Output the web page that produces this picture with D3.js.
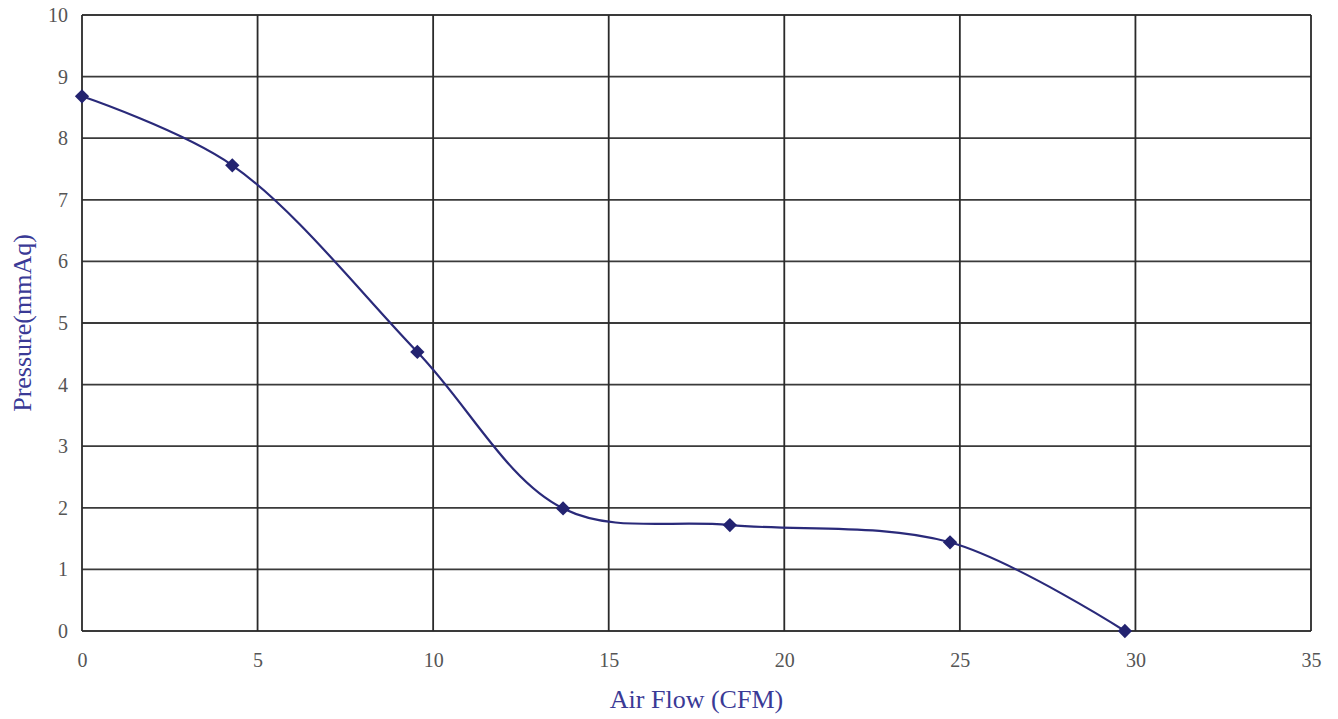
<!DOCTYPE html>
<html>
<head>
<meta charset="utf-8">
<script src="https://cdn.jsdelivr.net/npm/d3@7"></script>
<style>
  body { margin: 0; background: #fff; }
  text { font-family: "Liberation Serif", "DejaVu Serif", serif; }
</style>
</head>
<body>
<script>
// Fan curve data
const airFlow = [0, 4.28, 9.55, 13.7, 18.45, 24.72, 29.7];
const pressure = [8.68, 7.56, 4.53, 1.99, 1.72, 1.44, 0];
const xTicks = [0, 5, 10, 15, 20, 25, 30, 35];
const yTicks = [0, 1, 2, 3, 4, 5, 6, 7, 8, 9, 10];

const width = 1338;
const height = 719;
const margin = { top: 15, right: 27, bottom: 88, left: 82 };

const svg = d3.select("body")
  .append("svg")
  .attr("width", width)
  .attr("height", height);

const x = d3.scaleLinear()
  .domain([0, 35])
  .range([margin.left, width - margin.right]);

const y = d3.scaleLinear()
  .domain([0, 10])
  .range([height - margin.bottom, margin.top]);

// grid
svg.append("g")
  .selectAll("line")
  .data(yTicks)
  .enter()
  .append("line")
  .attr("x1", x(0))
  .attr("x2", x(35))
  .attr("y1", d => y(d))
  .attr("y2", d => y(d))
  .attr("stroke", "#3a3a3a")
  .attr("stroke-width", 1.8);

svg.append("g")
  .selectAll("line")
  .data(xTicks)
  .enter()
  .append("line")
  .attr("x1", d => x(d))
  .attr("x2", d => x(d))
  .attr("y1", y(0))
  .attr("y2", y(10))
  .attr("stroke", "#2a2a2a")
  .attr("stroke-width", 1.8);

// axes
const xAxis = svg.append("g")
  .attr("transform", `translate(0,${y(0)})`)
  .call(d3.axisBottom(x).tickValues(xTicks).tickSize(0).tickPadding(22));

const yAxis = svg.append("g")
  .attr("transform", `translate(${x(0)},0)`)
  .call(d3.axisLeft(y).tickValues(yTicks).tickSize(0).tickPadding(14));

[xAxis, yAxis].forEach(g => {
  g.select(".domain").remove();
  g.selectAll("text")
    .attr("font-size", 20)
    .attr("fill", "#555");
});

// curve
const points = airFlow.map((d, i) => [d, pressure[i]]);

const line = d3.line()
  .x(d => x(d[0]))
  .y(d => y(d[1]))
  .curve(d3.curveCatmullRom.alpha(0.5));

svg.append("path")
  .datum(points)
  .attr("d", line)
  .attr("fill", "none")
  .attr("stroke", "#2a2a7a")
  .attr("stroke-width", 2.2);

svg.append("g")
  .selectAll("path")
  .data(points)
  .enter()
  .append("path")
  .attr("transform", d => `translate(${x(d[0])},${y(d[1])})`)
  .attr("d", d3.symbol().type(d3.symbolDiamond2).size(130))
  .attr("fill", "#232370");

// axis titles
svg.append("text")
  .attr("x", (x(0) + x(35)) / 2)
  .attr("y", 708)
  .attr("text-anchor", "middle")
  .attr("font-size", 26)
  .attr("fill", "#3a3a96")
  .text("Air Flow (CFM)");

svg.append("text")
  .attr("transform", `translate(31,${(y(0) + y(10)) / 2}) rotate(-90)`)
  .attr("text-anchor", "middle")
  .attr("font-size", 26)
  .attr("fill", "#3a3a96")
  .text("Pressure(mmAq)");
</script>
</body>
</html>
